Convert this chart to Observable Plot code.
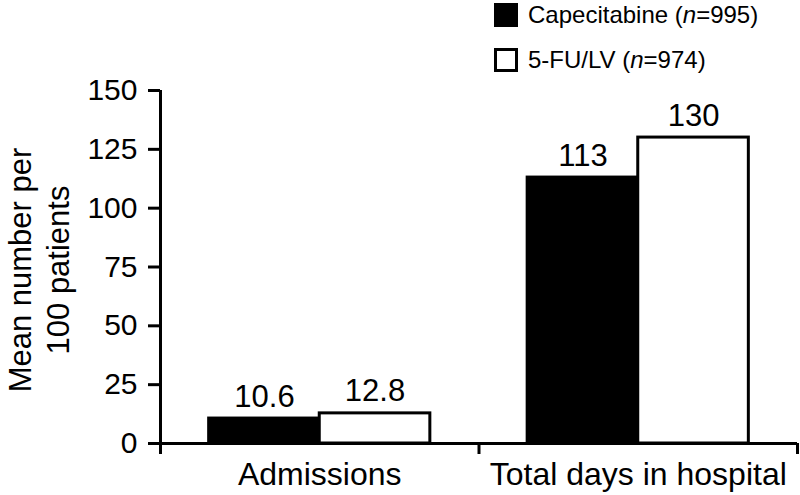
<!DOCTYPE html>
<html>
<head>
<meta charset="utf-8">
<script src="https://cdn.jsdelivr.net/npm/d3@7"></script>
<script src="https://cdn.jsdelivr.net/npm/@observablehq/plot@0.6"></script>
<style>
  html, body { margin: 0; padding: 0; background: #fff; }
  body { font-family: "Liberation Sans", Arial, Helvetica, sans-serif; color: #000; width: 800px; }
  #legend { height: 76px; box-sizing: border-box; padding: 3px 0 0 494px; }
  .item { display: flex; align-items: center; height: 24px; margin-bottom: 21px; font-size: 24px; line-height: 24px; white-space: nowrap; }
  .sw { width: 24px; height: 24px; box-sizing: border-box; margin-right: 10px; flex: none; border: 3px solid #000; }
  #chart svg { display: block; overflow: visible; }
</style>
</head>
<body>
<div id="legend"></div>
<div id="chart"></div>
<script>
// ---- data ----
const categories = ["Admissions", "Total days in hospital"];
const series = ["Capecitabine", "5-FU/LV"];
const seriesN = [995, 974];
const capecitabine = [10.6, 113];
const fuLv = [12.8, 130];
const yTicks = [0, 25, 50, 75, 100, 125, 150];
const seriesColors = ["#000000", "#ffffff"];
const yLabel = "Mean number per\n100 patients";

// ---- legend (HTML, above the SVG) ----
const legend = document.getElementById("legend");
series.forEach((s, i) => {
  const item = document.createElement("div");
  item.className = "item";
  const sw = document.createElement("span");
  sw.className = "sw";
  sw.style.background = seriesColors[i];
  const label = document.createElement("span");
  label.innerHTML = `${s} (<i>n</i>=${seriesN[i]})`;
  item.appendChild(sw);
  item.appendChild(label);
  legend.appendChild(item);
});

// ---- table for the marks ----
const values = [capecitabine, fuLv];
const inner = d3.scaleBand().domain(series).range([0, 1]).paddingInner(0).paddingOuter(0.44);
const table = categories.flatMap((c, ci) =>
  series.map((s, si) => ({
    category: c,
    series: s,
    value: values[si][ci],
    x1: ci + inner(s),
    x2: ci + inner(s) + inner.bandwidth()
  }))
);
const boundaries = d3.range(categories.length + 1);
const font = '"Liberation Sans", Arial, Helvetica, sans-serif';

const chart = Plot.plot({
  width: 800,
  height: 419,
  marginTop: 14,
  marginBottom: 52,
  marginLeft: 160,
  marginRight: 3,
  style: { fontFamily: font, fontSize: "30px", color: "#000", background: "#fff" },
  x: { domain: [0, categories.length] },
  y: { domain: [yTicks[0], yTicks[yTicks.length - 1]] },
  color: { domain: series, range: seriesColors },
  marks: [
    Plot.rect(table, {
      x1: "x1", x2: "x2", y1: () => 0, y2: "value",
      fill: "series", stroke: "#000", strokeWidth: 3
    }),
    Plot.ruleY([0], { stroke: "#000", strokeWidth: 3 }),
    Plot.ruleX([0], { stroke: "#000", strokeWidth: 3 }),
    Plot.axisY({
      ticks: yTicks, tickSize: 12, tickPadding: 11, strokeWidth: 3,
      label: null, fontSize: 30
    }),
    Plot.axisX({
      ticks: boundaries, tickSize: 11, tickFormat: () => "", strokeWidth: 3, label: null
    }),
    Plot.text(categories, {
      x: (d, i) => i + 0.5, text: d => d, frameAnchor: "bottom",
      lineAnchor: "top", dy: 19, fontSize: 32
    }),
    Plot.text(table, {
      x: d => (d.x1 + d.x2) / 2, y: "value", text: d => String(d.value),
      lineAnchor: "bottom", dy: -12, fontSize: 31
    }),
    Plot.text([yLabel], {
      text: d => d, frameAnchor: "left", rotate: -90, dx: -123, dy: 3,
      lineHeight: 1.25, fontSize: 31, textAnchor: "middle"
    })
  ]
});
document.getElementById("chart").appendChild(chart);
</script>
</body>
</html>
